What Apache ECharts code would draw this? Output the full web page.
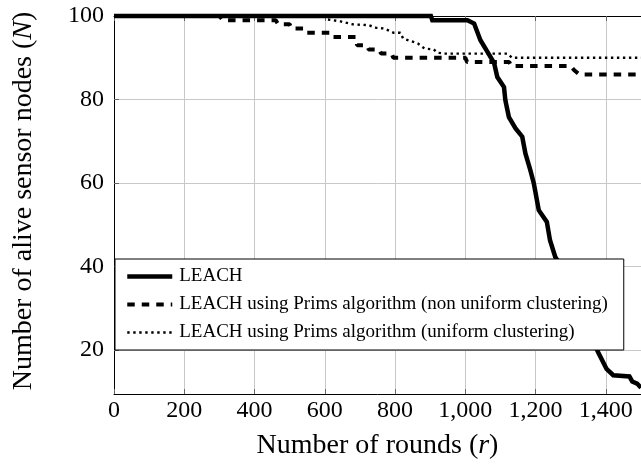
<!DOCTYPE html>
<html><head><meta charset="utf-8">
<script src="https://cdn.jsdelivr.net/npm/echarts@6/dist/echarts.min.js"></script>
<style>html,body{margin:0;padding:0;background:#fff}#c{width:641px;height:471px}</style>
</head><body><div id="c"></div>
<script>
const seriesNames = [
  'LEACH',
  'LEACH using Prims algorithm (non uniform clustering)',
  'LEACH using Prims algorithm (uniform clustering)'
];
const leachRounds = [0, 902, 906, 1006, 1025, 1043, 1063, 1082, 1091, 1110, 1114, 1124, 1143, 1162, 1171, 1185, 1195, 1209, 1232, 1241, 1256, 1262, 1378, 1402, 1421, 1467, 1475, 1489, 1500];
const leachAlive  = [100, 100, 99, 99, 98.2, 94.2, 91.4, 88.7, 85.4, 83, 79.8, 75.8, 73.1, 71.1, 67.1, 63.1, 59.9, 53.5, 50.7, 46.3, 42.3, 41.5, 19.5, 15.5, 14, 13.7, 12.5, 12, 11];
const nonUniRounds = [0, 300, 310, 460, 468, 500, 505, 540, 545, 615, 620, 688, 692, 720, 725, 755, 760, 790, 795, 1000, 1005, 1125, 1130, 1300, 1310, 1325, 1500];
const nonUniAlive  = [100, 100, 99, 99, 98, 98, 97, 97, 96, 96, 95, 95, 93, 93, 92, 92, 91, 91, 90, 90, 89, 89, 88, 88, 87, 86, 86];
const uniRounds = [0, 600, 605, 645, 680, 725, 745, 770, 795, 815, 823, 845, 865, 884, 910, 921, 940, 1120, 1133, 1500];
const uniAlive  = [100, 100, 99.2, 98.7, 98, 97.8, 97.2, 97, 96, 96, 94.6, 94, 93.4, 92.2, 92, 91.2, 91, 91, 90, 90];
const xMin = 0, xMax = 1500, xStep = 200;
const yMin = 9.5, yMax = 100;

const pairs = (xs, ys) => xs.map((x, i) => [x, ys[i]]);
const FONT = "'Liberation Serif', 'Times New Roman', serif";
const chart = echarts.init(document.getElementById('c'), null, {renderer: 'canvas'});
const gridLine = {show: true, lineStyle: {color: '#c8c8c8', width: 1}};
const tick = {show: true, inside: true, length: 5, lineStyle: {color: '#666', width: 1}};
const styles = [
  {color: '#000', width: 4.5, type: 'solid', join: 'miter'},
  {color: '#000', width: 4, type: [7.5, 7], cap: 'butt'},
  {color: '#000', width: 2.4, type: [2.4, 3.6], cap: 'butt'}
];
chart.setOption({
  animation: false,
  backgroundColor: '#fff',
  textStyle: {fontFamily: FONT, color: '#000'},
  grid: {left: 114, top: 16, right: -4, bottom: 77, containLabel: false},
  legend: {
    data: seriesNames.map((n, i) => ({name: n, itemStyle: {opacity: 0}, lineStyle: styles[i]})),
    orient: 'vertical',
    left: 115, top: 259,
    itemWidth: 45, itemHeight: 14, itemGap: 9,
    padding: [8, 16, 8, 10],
    backgroundColor: '#fff',
    borderColor: '#000', borderWidth: 1, borderRadius: 0,
    selectedMode: false,
    itemStyle: {opacity: 0},
    textStyle: {fontFamily: FONT, fontSize: 19, lineHeight: 19, color: '#000', padding: [0, 0, 0, 2]},
    z: 10
  },
  xAxis: [{
    type: 'value', min: xMin, max: xMax, interval: xStep,
    name: 'Number of rounds ({i|r})', nameLocation: 'middle', nameGap: 38,
    nameTextStyle: {fontFamily: FONT, fontSize: 28, color: '#000',
      rich: {i: {fontFamily: FONT, fontSize: 28, fontStyle: 'italic'}}},
    axisLine: {show: true, onZero: false, lineStyle: {color: '#000', width: 1}},
    axisTick: tick,
    splitLine: gridLine,
    axisLabel: {fontFamily: FONT, fontSize: 24, color: '#000', margin: 5, showMaxLabel: false,
      formatter: v => v.toLocaleString('en-US')}
  }, {
    type: 'value', min: xMin, max: xMax, interval: xStep, position: 'top',
    axisLine: {show: true, onZero: false, lineStyle: {color: '#000', width: 1}},
    axisTick: tick, splitLine: {show: false}, axisLabel: {show: false}
  }],
  yAxis: [{
    type: 'value', min: yMin, max: yMax, splitNumber: 5,
    name: 'Number of alive sensor nodes ({i|N})', nameLocation: 'middle', nameGap: 76, nameRotate: 90,
    nameTextStyle: {fontFamily: FONT, fontSize: 28, color: '#000', padding: [0, 0, 0, 8],
      rich: {i: {fontFamily: FONT, fontSize: 28, fontStyle: 'italic'}}},
    axisLine: {show: true, onZero: false, lineStyle: {color: '#000', width: 1}},
    axisTick: tick,
    splitLine: gridLine,
    axisLabel: {fontFamily: FONT, fontSize: 24, color: '#000', margin: 10, showMinLabel: false}
  }],
  series: [{
    name: seriesNames[0], type: 'line', data: pairs(leachRounds, leachAlive),
    symbol: 'none', clip: false, z: 5, lineStyle: styles[0], itemStyle: {color: '#000'}
  }, {
    name: seriesNames[1], type: 'line', data: pairs(nonUniRounds, nonUniAlive),
    symbol: 'none', clip: false, z: 4, lineStyle: styles[1], itemStyle: {color: '#000'}
  }, {
    name: seriesNames[2], type: 'line', data: pairs(uniRounds, uniAlive),
    symbol: 'none', clip: false, z: 3, lineStyle: styles[2], itemStyle: {color: '#000'}
  }]
});
</script>
</body></html>
